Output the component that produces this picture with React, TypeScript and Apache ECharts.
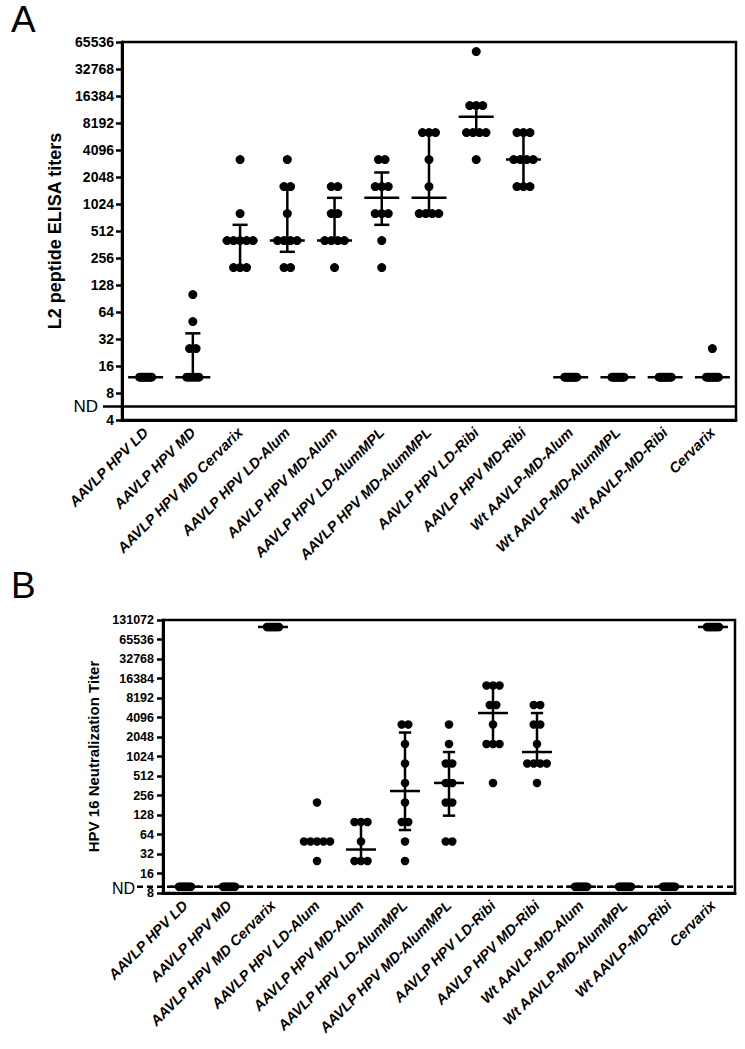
import React, { useEffect, useRef } from "react";
import * as echarts from "echarts";

const categories = [
  "AAVLP HPV LD",
  "AAVLP HPV MD",
  "AAVLP HPV MD Cervarix",
  "AAVLP HPV LD-Alum",
  "AAVLP HPV MD-Alum",
  "AAVLP HPV LD-AlumMPL",
  "AAVLP HPV MD-AlumMPL",
  "AAVLP HPV LD-Ribi",
  "AAVLP HPV MD-Ribi",
  "Wt AAVLP-MD-Alum",
  "Wt AAVLP-MD-AlumMPL",
  "Wt AAVLP-MD-Ribi",
  "Cervarix",
];

// Panel A: L2 peptide ELISA titers (individual animals)
const elisaTiters: number[][] = [
  [12, 12, 12, 12, 12, 12, 12, 12, 12, 12],
  [100, 50, 25, 25, 12, 12, 12, 12, 12, 12],
  [3200, 800, 400, 400, 400, 400, 400, 200, 200, 200],
  [3200, 1600, 1600, 800, 400, 400, 400, 400, 200, 200],
  [1600, 1600, 800, 800, 400, 400, 400, 400, 200],
  [3200, 3200, 1600, 1600, 1600, 800, 800, 800, 400, 200],
  [6400, 6400, 6400, 3200, 1600, 800, 800, 800, 800],
  [51200, 12800, 12800, 12800, 6400, 6400, 6400, 6400, 3200],
  [6400, 6400, 6400, 3200, 3200, 3200, 3200, 1600, 1600, 1600],
  [12, 12, 12, 12, 12, 12, 12, 12, 12, 12],
  [12, 12, 12, 12, 12, 12, 12, 12, 12, 12],
  [12, 12, 12, 12, 12, 12, 12, 12, 12, 12],
  [25, 12, 12, 12, 12, 12, 12, 12, 12, 12],
];
const elisaMedian = [12, 12, 400, 400, 400, 1200, 1200, 9600, 3200, 12, 12, 12, 12];
const elisaLow = [12, 12, 200, 300, 400, 600, 800, 6400, 1600, 12, 12, 12, 12];
const elisaHigh = [12, 37, 600, 1600, 1200, 2300, 6400, 12800, 6400, 12, 12, 12, 12];

// Panel B: HPV 16 neutralization titers (individual animals)
const neutTiters: number[][] = [
  [10, 10, 10, 10, 10, 10, 10, 10, 10, 10],
  [10, 10, 10, 10, 10, 10, 10, 10, 10, 10],
  [102400, 102400, 102400, 102400, 102400, 102400, 102400, 102400, 102400, 102400],
  [200, 50, 50, 50, 50, 50, 25],
  [100, 100, 100, 50, 25, 25, 25],
  [3200, 3200, 1600, 800, 400, 200, 100, 100, 50, 25],
  [3200, 1600, 800, 800, 400, 400, 200, 200, 50, 50],
  [12800, 12800, 12800, 6400, 6400, 3200, 1600, 1600, 1600, 400],
  [6400, 6400, 3200, 3200, 1600, 800, 800, 800, 800, 400],
  [10, 10, 10, 10, 10, 10, 10, 10, 10, 10],
  [10, 10, 10, 10, 10, 10, 10, 10, 10, 10],
  [10, 10, 10, 10, 10, 10, 10, 10, 10, 10],
  [102400, 102400, 102400, 102400, 102400, 102400, 102400, 102400, 102400, 102400],
];
const neutMedian = [10, 10, 102400, 50, 37.5, 300, 400, 4800, 1200, 10, 10, 10, 102400];
const neutLow = [10, 10, 102400, 50, 25, 75, 125, 1600, 800, 10, 10, 10, 102400];
const neutHigh = [10, 10, 102400, 50, 100, 2400, 1200, 12800, 4800, 10, 10, 10, 102400];

const elisaAxisMin = 4;
const elisaAxisMax = 65536;
const neutAxisMin = 8;
const neutAxisMax = 131072;
const elisaND = 5.66;
const neutND = 10;

const FONT = "Liberation Sans, Arial, Helvetica, sans-serif";
const W = 745;
const H = 1049;
const GRID_A = { left: 122, right: 9, top: 42, height: 378 };
const GRID_B = { left: 163, right: 10, top: 620, height: 273 };

function swarm(groups: number[][], bandPx: number) {
  const pts: number[][] = [];
  groups.forEach((g, i) => {
    const counts = new Map<number, number>();
    g.forEach((v) => counts.set(v, (counts.get(v) || 0) + 1));
    counts.forEach((k, v) => {
      const s = k <= 5 ? 6.5 : 12 / (k - 1);
      for (let j = 0; j < k; j++) {
        pts.push([i + ((j - (k - 1) / 2) * s) / bandPx, v]);
      }
    });
  });
  return pts;
}

function makeRender(medHalf: number, capHalf: number) {
  return (params: any, api: any) => {
    const x = api.value(0);
    const med = api.value(1);
    const lo = api.value(2);
    const hi = api.value(3);
    const pm = api.coord([x, med]);
    const pl = api.coord([x, lo]);
    const ph = api.coord([x, hi]);
    const band = api.coord([x + 1, med])[0] - pm[0];
    const st = { stroke: "#000", lineWidth: 2.5 };
    const children: any[] = [
      {
        type: "line",
        shape: { x1: pm[0] - band * medHalf, y1: pm[1], x2: pm[0] + band * medHalf, y2: pm[1] },
        style: st,
      },
    ];
    if (hi !== lo) {
      children.push({
        type: "line",
        shape: { x1: pm[0], y1: pl[1], x2: pm[0], y2: ph[1] },
        style: st,
      });
      if (hi !== med)
        children.push({
          type: "line",
          shape: { x1: pm[0] - band * capHalf, y1: ph[1], x2: pm[0] + band * capHalf, y2: ph[1] },
          style: st,
        });
      if (lo !== med)
        children.push({
          type: "line",
          shape: { x1: pm[0] - band * capHalf, y1: pl[1], x2: pm[0] + band * capHalf, y2: pl[1] },
          style: st,
        });
    }
    return { type: "group", children };
  };
}

function catAxis(gridIndex: number) {
  return {
    type: "category",
    gridIndex,
    data: categories,
    boundaryGap: true,
    axisLine: { onZero: false, lineStyle: { color: "#000", width: 3 } },
    axisTick: { alignWithLabel: true, length: 6, lineStyle: { color: "#000", width: 2.5 } },
    axisLabel: {
      rotate: 45,
      interval: 0,
      margin: 10,
      fontSize: 14.5,
      fontWeight: "bold",
      fontStyle: "italic",
      color: "#000",
      fontFamily: FONT,
    },
  };
}

function logAxis(gridIndex: number, min: number, max: number, name: string, labelSize: number, nameSize: number, nameGap: number, labelMargin: number) {
  return {
    type: "log",
    logBase: 2,
    gridIndex,
    min,
    max,
    interval: 1,
    name,
    nameLocation: "middle",
    nameRotate: 90,
    nameGap,
    nameTextStyle: { fontSize: nameSize, fontWeight: "bold", color: "#000", fontFamily: FONT },
    axisLine: { show: true, onZero: false, lineStyle: { color: "#000", width: 3 } },
    axisTick: { show: true, length: 6, lineStyle: { color: "#000", width: 2.5 } },
    axisLabel: {
      fontSize: labelSize,
      fontWeight: "bold",
      color: "#000",
      margin: labelMargin,
      fontFamily: FONT,
      formatter: (v: number) => String(Math.round(v)),
    },
    splitLine: { show: false },
  };
}

export default function App() {
  const ref = useRef<HTMLDivElement>(null);
  useEffect(() => {
    if (!ref.current) return;
    const chart = echarts.init(ref.current, undefined, { renderer: "svg" });
    const bandA = (W - GRID_A.left - GRID_A.right) / categories.length;
    const bandB = (W - GRID_B.left - GRID_B.right) / categories.length;
    const statsA = categories.map((_, i) => [i, elisaMedian[i], elisaLow[i], elisaHigh[i]]);
    const statsB = categories.map((_, i) => [i, neutMedian[i], neutLow[i], neutHigh[i]]);
    chart.setOption({
      animation: false,
      backgroundColor: "#fff",
      textStyle: { fontFamily: FONT },
      grid: [
        { ...GRID_A, show: true, borderColor: "#000", borderWidth: 2.5, backgroundColor: "transparent" },
        { ...GRID_B, show: true, borderColor: "#000", borderWidth: 2.5, backgroundColor: "transparent" },
      ],
      xAxis: [
        catAxis(0),
        { type: "value", gridIndex: 0, min: -0.5, max: 12.5, show: false },
        catAxis(1),
        { type: "value", gridIndex: 1, min: -0.5, max: 12.5, show: false },
      ],
      yAxis: [
        logAxis(0, elisaAxisMin, elisaAxisMax, "L2 peptide ELISA titers", 14, 18, 57, 8),
        logAxis(1, neutAxisMin, neutAxisMax, "HPV 16 Neutralization Titer", 12.5, 15, 57, 9),
      ],
      series: [
        {
          type: "scatter",
          xAxisIndex: 1,
          yAxisIndex: 0,
          symbolSize: 9,
          itemStyle: { color: "#000", opacity: 1 },
          silent: true,
          data: swarm(elisaTiters, bandA),
        },
        {
          type: "custom",
          xAxisIndex: 1,
          yAxisIndex: 0,
          silent: true,
          renderItem: makeRender(0.37, 0.16),
          data: statsA,
        },
        {
          type: "scatter",
          xAxisIndex: 3,
          yAxisIndex: 1,
          symbolSize: 8.5,
          itemStyle: { color: "#000", opacity: 1 },
          silent: true,
          data: swarm(neutTiters, bandB),
        },
        {
          type: "custom",
          xAxisIndex: 3,
          yAxisIndex: 1,
          silent: true,
          renderItem: makeRender(0.34, 0.14),
          data: statsB,
        },
      ],
    });
    const yA = chart.convertToPixel({ yAxisIndex: 0 } as any, elisaND) as unknown as number;
    const yB = chart.convertToPixel({ yAxisIndex: 1 } as any, neutND) as unknown as number;
    chart.setOption({
      graphic: {
        elements: [
          { type: "text", left: 11, top: 1, style: { text: "A", font: `37px ${FONT}`, fill: "#000" } },
          { type: "text", left: 11, top: 567, style: { text: "B", font: `37px ${FONT}`, fill: "#000" } },
          {
            type: "line",
            shape: { x1: 103, y1: yA, x2: W - GRID_A.right, y2: yA },
            style: { stroke: "#000", lineWidth: 2.5 },
          },
          {
            type: "text",
            x: 98,
            y: yA,
            style: { text: "ND", font: `17px ${FONT}`, fill: "#000", align: "right", verticalAlign: "middle" },
          },
          {
            type: "line",
            shape: { x1: 137, y1: yB, x2: W - GRID_B.right, y2: yB },
            style: { stroke: "#000", lineWidth: 2.5, lineDash: [6, 4] },
          },
          {
            type: "text",
            x: 135,
            y: yB + 2,
            style: { text: "ND", font: `16px ${FONT}`, fill: "#000", align: "right", verticalAlign: "middle" },
          },
        ],
      },
    });
    return () => chart.dispose();
  }, []);
  return <div ref={ref} style={{ position: "fixed", left: 0, top: 0, width: W, height: H }} />;
}
